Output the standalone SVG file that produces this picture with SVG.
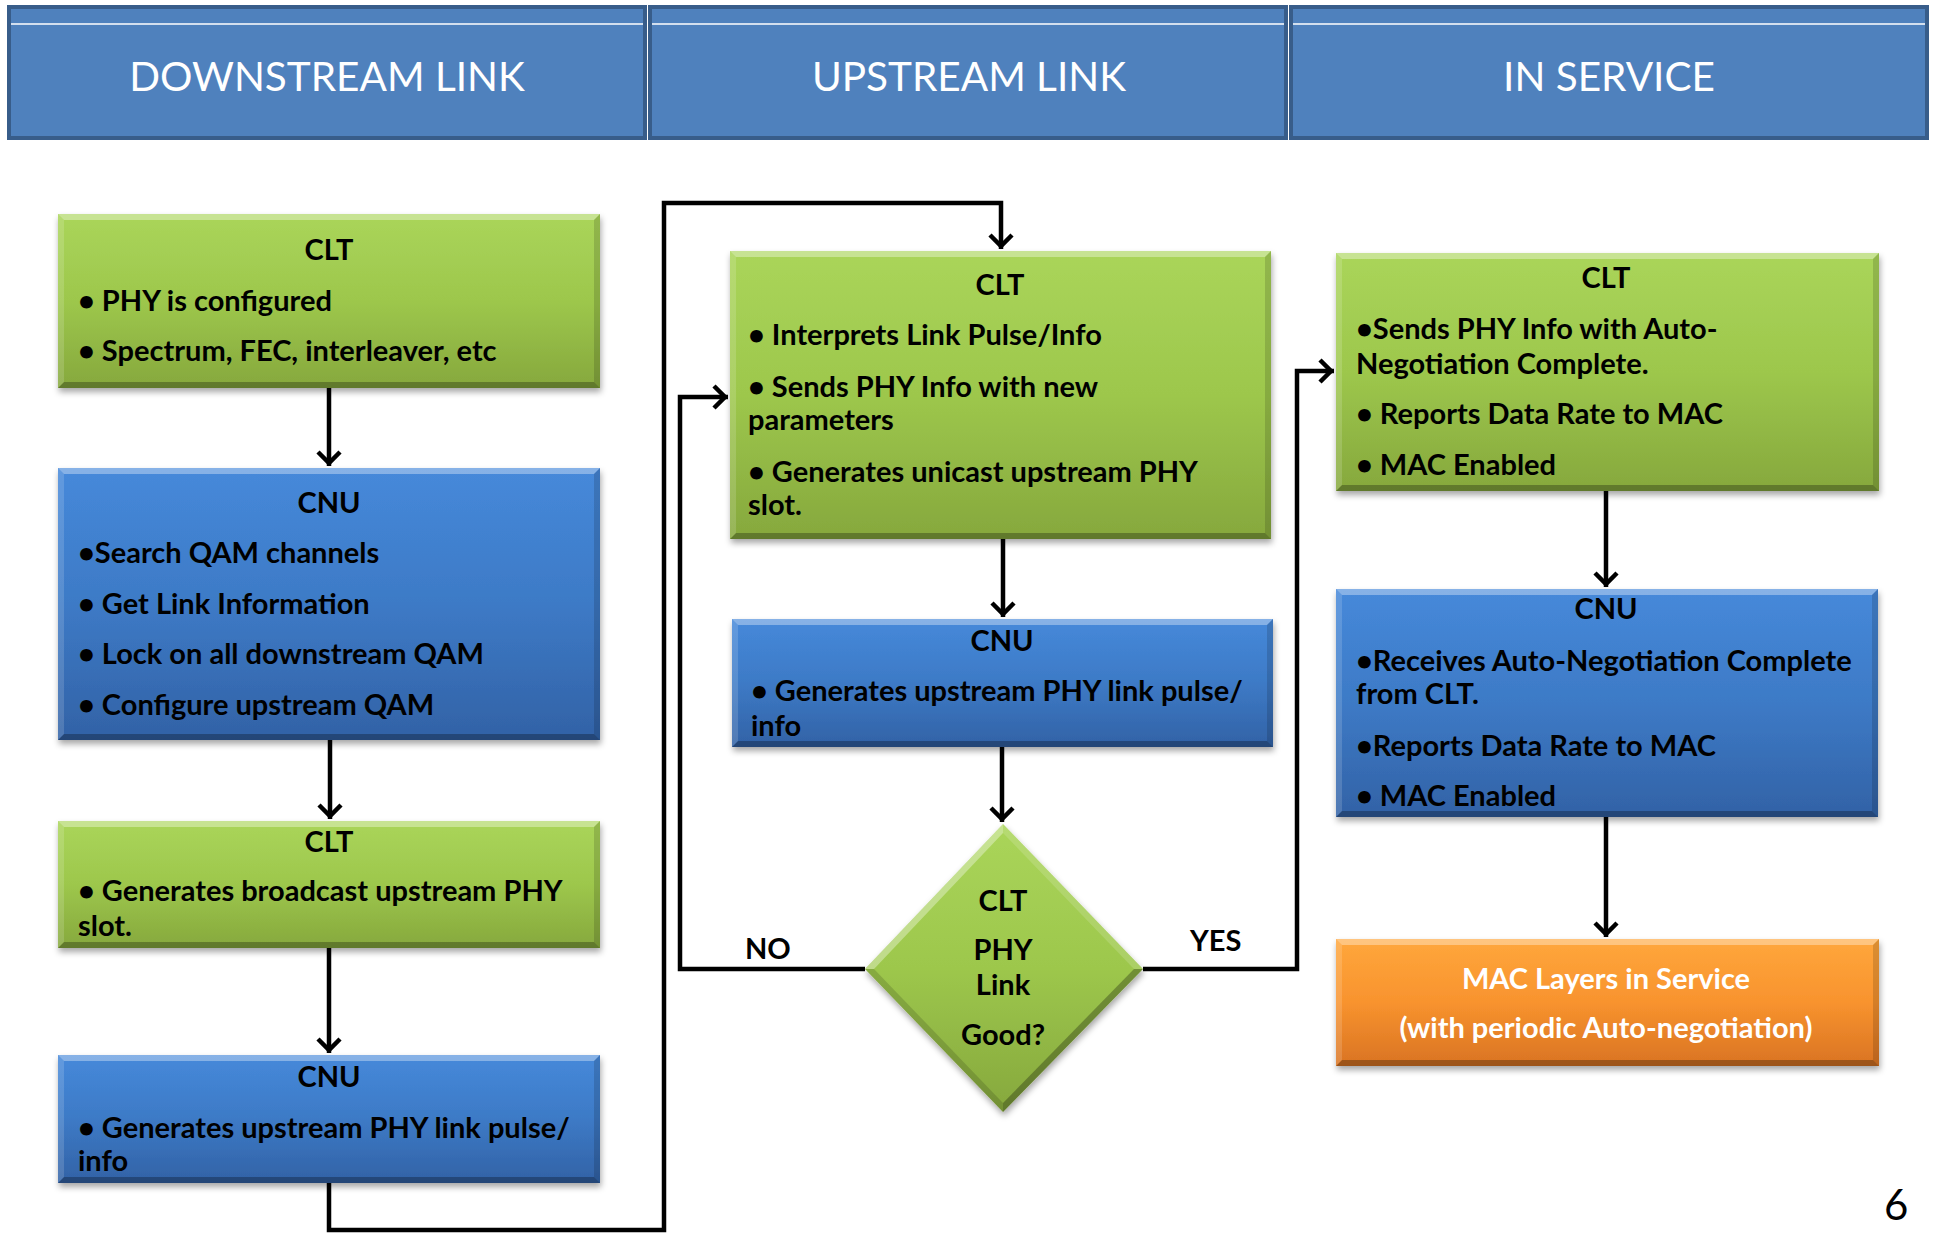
<svg xmlns="http://www.w3.org/2000/svg" width="1933" height="1233" viewBox="0 0 1933 1233">
<defs>
<style>
.hdr{fill:#4F81BD;stroke:#385D8A;stroke-width:4}
.hline{stroke:#FFFFFF;stroke-width:1.5}
.htxt{font-family:Lato,"Liberation Sans",sans-serif;font-size:40.5px;fill:#FFFFFF;text-anchor:middle}
.t{font-family:Lato,"Liberation Sans",sans-serif;font-weight:bold;font-size:29px;fill:#000000}
.c{text-anchor:middle}
.w{fill:#FFFFFF}
.hi{fill:#FFFFFF;opacity:0.35}
.hi2{fill:#FFFFFF;opacity:0.15}
.lo{fill:#000000;opacity:0.28}
.lo2{fill:#000000;opacity:0.14}
.conn{fill:none;stroke:#000000;stroke-width:4.5;stroke-linejoin:miter}
.pg{font-family:Lato,"Liberation Sans",sans-serif;font-size:42px;fill:#000000}
</style>
<linearGradient id="gG" x1="0" y1="0" x2="0" y2="1">
<stop offset="0" stop-color="#AAD55A"/>
<stop offset="0.5" stop-color="#9DC74C"/>
<stop offset="1" stop-color="#86A83D"/>
</linearGradient>
<linearGradient id="gB" x1="0" y1="0" x2="0" y2="1">
<stop offset="0" stop-color="#4689DA"/>
<stop offset="0.5" stop-color="#3D7AC6"/>
<stop offset="1" stop-color="#3262A6"/>
</linearGradient>
<linearGradient id="gO" x1="0" y1="0" x2="0" y2="1">
<stop offset="0" stop-color="#FFA73C"/>
<stop offset="0.5" stop-color="#F8932E"/>
<stop offset="1" stop-color="#D97323"/>
</linearGradient>
<filter id="sh" x="-5%" y="-10%" width="110%" height="125%">
<feDropShadow dx="1" dy="4" stdDeviation="3" flood-color="#000000" flood-opacity="0.35"/>
</filter>
<marker id="ah" markerUnits="userSpaceOnUse" markerWidth="32" markerHeight="32" viewBox="-16 -16 32 32" refX="3" refY="0" orient="auto">
<path d="M-11,-11 L0,0 L-11,11" fill="none" stroke="#000000" stroke-width="4.5"/>
</marker>
</defs>

<rect width="1933" height="1233" fill="#FFFFFF"/>

<g id="header-downstream">
<rect class="hdr" x="9" y="7" width="636" height="131"/>
<line class="hline" x1="11" y1="24" x2="643" y2="24"/>
<text class="htxt" x="327" y="91">DOWNSTREAM LINK</text>
</g>
<g id="header-upstream">
<rect class="hdr" x="650" y="7" width="636" height="131"/>
<line class="hline" x1="652" y1="24" x2="1284" y2="24"/>
<text class="htxt" x="969" y="91">UPSTREAM LINK</text>
</g>
<g id="header-inservice">
<rect class="hdr" x="1291" y="7" width="636" height="131"/>
<line class="hline" x1="1293" y1="24" x2="1925" y2="24"/>
<text class="htxt" x="1609" y="91">IN SERVICE</text>
</g>

<g id="connectors">
<line class="conn" x1="329" y1="388" x2="329" y2="466" marker-end="url(#ah)"/>
<line class="conn" x1="330" y1="740" x2="330" y2="819" marker-end="url(#ah)"/>
<line class="conn" x1="329" y1="948" x2="329" y2="1053" marker-end="url(#ah)"/>
<path class="conn" d="M329,1183 V1230 H664 V203 H1001 V249" marker-end="url(#ah)"/>
<line class="conn" x1="1003" y1="539" x2="1003" y2="617" marker-end="url(#ah)"/>
<line class="conn" x1="1002" y1="747" x2="1002" y2="822" marker-end="url(#ah)"/>
<path class="conn" d="M865,969 H680 V397 H728" marker-end="url(#ah)"/>
<path class="conn" d="M1143,969 H1297 V371 H1334" marker-end="url(#ah)"/>
<line class="conn" x1="1606" y1="491" x2="1606" y2="587" marker-end="url(#ah)"/>
<line class="conn" x1="1606" y1="817" x2="1606" y2="937" marker-end="url(#ah)"/>
<text class="t" x="745" y="959">NO</text>
<text class="t" x="1190" y="951">YES</text>
</g>

<g id="clt1">
<rect x="58" y="214" width="542" height="174" fill="url(#gG)" filter="url(#sh)"/>
<path class="hi" d="M58,214 H600 L594,220 H64 Z"/>
<path class="lo" d="M58,388 H600 L594,382 H64 Z"/>
<path class="hi2" d="M58,214 L64,220 V382 L58,388 Z"/>
<path class="lo2" d="M600,214 L594,220 V382 L600,388 Z"/>
<text class="t c" x="329" y="260">CLT</text>
<text class="t" x="78" y="311">• PHY is configured</text>
<text class="t" x="78" y="361">• Spectrum, FEC, interleaver, etc</text>
</g>

<g id="cnu1">
<rect x="58" y="468" width="542" height="272" fill="url(#gB)" filter="url(#sh)"/>
<path class="hi" d="M58,468 H600 L594,474 H64 Z"/>
<path class="lo" d="M58,740 H600 L594,734 H64 Z"/>
<path class="hi2" d="M58,468 L64,474 V734 L58,740 Z"/>
<path class="lo2" d="M600,468 L594,474 V734 L600,740 Z"/>
<text class="t c" x="329" y="513">CNU</text>
<text class="t" x="78" y="563">•Search QAM channels</text>
<text class="t" x="78" y="614">• Get Link Information</text>
<text class="t" x="78" y="664">• Lock on all downstream QAM</text>
<text class="t" x="78" y="715">• Configure upstream QAM</text>
</g>

<g id="clt2">
<rect x="58" y="821" width="542" height="127" fill="url(#gG)" filter="url(#sh)"/>
<path class="hi" d="M58,821 H600 L594,827 H64 Z"/>
<path class="lo" d="M58,948 H600 L594,942 H64 Z"/>
<path class="hi2" d="M58,821 L64,827 V942 L58,948 Z"/>
<path class="lo2" d="M600,821 L594,827 V942 L600,948 Z"/>
<text class="t c" x="329" y="852">CLT</text>
<text class="t" x="78" y="901">• Generates broadcast upstream PHY</text>
<text class="t" x="78" y="936">slot.</text>
</g>

<g id="cnu2">
<rect x="58" y="1055" width="542" height="128" fill="url(#gB)" filter="url(#sh)"/>
<path class="hi" d="M58,1055 H600 L594,1061 H64 Z"/>
<path class="lo" d="M58,1183 H600 L594,1177 H64 Z"/>
<path class="hi2" d="M58,1055 L64,1061 V1177 L58,1183 Z"/>
<path class="lo2" d="M600,1055 L594,1061 V1177 L600,1183 Z"/>
<text class="t c" x="329" y="1087">CNU</text>
<text class="t" x="78" y="1138">• Generates upstream PHY link pulse/</text>
<text class="t" x="78" y="1171">info</text>
</g>

<g id="clt3">
<rect x="730" y="251" width="541" height="288" fill="url(#gG)" filter="url(#sh)"/>
<path class="hi" d="M730,251 H1271 L1265,257 H736 Z"/>
<path class="lo" d="M730,539 H1271 L1265,533 H736 Z"/>
<path class="hi2" d="M730,251 L736,257 V533 L730,539 Z"/>
<path class="lo2" d="M1271,251 L1265,257 V533 L1271,539 Z"/>
<text class="t c" x="1000" y="295">CLT</text>
<text class="t" x="748" y="345">• Interprets Link Pulse/Info</text>
<text class="t" x="748" y="397">• Sends PHY Info with new</text>
<text class="t" x="748" y="430">parameters</text>
<text class="t" x="748" y="482">• Generates unicast upstream PHY</text>
<text class="t" x="748" y="515">slot.</text>
</g>

<g id="cnu3">
<rect x="732" y="619" width="541" height="128" fill="url(#gB)" filter="url(#sh)"/>
<path class="hi" d="M732,619 H1273 L1267,625 H738 Z"/>
<path class="lo" d="M732,747 H1273 L1267,741 H738 Z"/>
<path class="hi2" d="M732,619 L738,625 V741 L732,747 Z"/>
<path class="lo2" d="M1273,619 L1267,625 V741 L1273,747 Z"/>
<text class="t c" x="1002" y="651">CNU</text>
<text class="t" x="751" y="701">• Generates upstream PHY link pulse/</text>
<text class="t" x="751" y="736">info</text>
</g>

<g id="decision">
<path d="M1003,824 L1143,969 L1003,1112 L865,969 Z" fill="url(#gG)" filter="url(#sh)"/>
<path class="hi" d="M1003,824 L865,969 L874,969 L1003,833 Z"/>
<path class="hi2" d="M1003,824 L1143,969 L1134,969 L1003,833 Z"/>
<path class="lo" d="M1003,1112 L1143,969 L1134,969 L1003,1103 Z"/>
<path class="lo2" d="M1003,1112 L865,969 L874,969 L1003,1103 Z"/>
<text class="t c" x="1003" y="911">CLT</text>
<text class="t c" x="1003" y="960">PHY</text>
<text class="t c" x="1003" y="995">Link</text>
<text class="t c" x="1003" y="1045">Good?</text>
</g>

<g id="clt4">
<rect x="1336" y="253" width="543" height="238" fill="url(#gG)" filter="url(#sh)"/>
<path class="hi" d="M1336,253 H1879 L1873,259 H1342 Z"/>
<path class="lo" d="M1336,491 H1879 L1873,485 H1342 Z"/>
<path class="hi2" d="M1336,253 L1342,259 V485 L1336,491 Z"/>
<path class="lo2" d="M1879,253 L1873,259 V485 L1879,491 Z"/>
<text class="t c" x="1606" y="288">CLT</text>
<text class="t" x="1356" y="339">•Sends PHY Info with Auto-</text>
<text class="t" x="1356" y="374">Negotiation Complete.</text>
<text class="t" x="1356" y="424">• Reports Data Rate to MAC</text>
<text class="t" x="1356" y="475">• MAC Enabled</text>
</g>

<g id="cnu4">
<rect x="1336" y="589" width="542" height="228" fill="url(#gB)" filter="url(#sh)"/>
<path class="hi" d="M1336,589 H1878 L1872,595 H1342 Z"/>
<path class="lo" d="M1336,817 H1878 L1872,811 H1342 Z"/>
<path class="hi2" d="M1336,589 L1342,595 V811 L1336,817 Z"/>
<path class="lo2" d="M1878,589 L1872,595 V811 L1878,817 Z"/>
<text class="t c" x="1606" y="619">CNU</text>
<text class="t" x="1356" y="671">•Receives Auto-Negotiation Complete</text>
<text class="t" x="1356" y="704">from CLT.</text>
<text class="t" x="1356" y="756">•Reports Data Rate to MAC</text>
<text class="t" x="1356" y="806">• MAC Enabled</text>
</g>

<g id="mac-in-service">
<rect x="1336" y="939" width="543" height="127" fill="url(#gO)" filter="url(#sh)"/>
<path class="hi" d="M1336,939 H1879 L1873,945 H1342 Z"/>
<path class="lo" d="M1336,1066 H1879 L1873,1060 H1342 Z"/>
<path class="hi2" d="M1336,939 L1342,945 V1060 L1336,1066 Z"/>
<path class="lo2" d="M1879,939 L1873,945 V1060 L1879,1066 Z"/>
<text class="t c w" x="1606" y="989">MAC Layers in Service</text>
<text class="t c w" x="1606" y="1038">(with periodic Auto-negotiation)</text>
</g>

<text class="pg" x="1884" y="1220">6</text>
</svg>
